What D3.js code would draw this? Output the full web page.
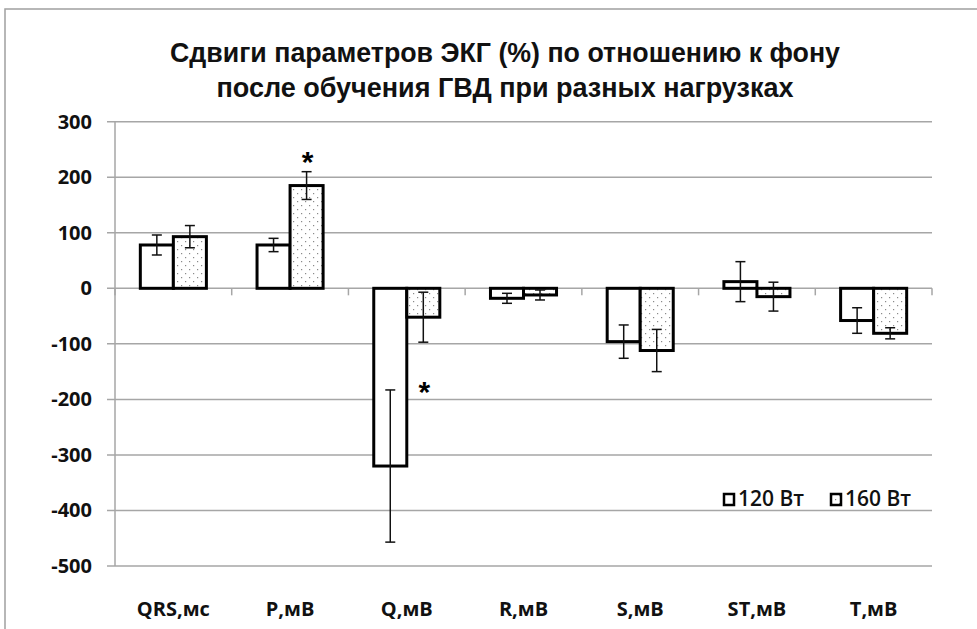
<!DOCTYPE html>
<html>
<head>
<meta charset="utf-8">
<script src="https://cdn.jsdelivr.net/npm/d3@7"></script>
<style>
  body { margin: 0; background: #fff; }
  svg { display: block; }
</style>
</head>
<body>
<svg width="977" height="629"></svg>
<script>
// данные графика
const categories = ["QRS,мс", "P,мВ", "Q,мВ", "R,мВ", "S,мВ", "ST,мВ", "T,мВ"];
const seriesNames = ["120 Вт", "160 Вт"];
const values120 = [78, 78, -320, -18, -96, 12, -58];
const errors120 = [18, 12, 137, 9, 30, 36, 23];
const values160 = [93, 185, -52, -12, -112, -15, -81];
const errors160 = [20, 25, 45, 9, 38, 26, 10];
const yTicks = [300, 200, 100, 0, -100, -200, -300, -400, -500];
// звездочки (достоверность) - категория, серия, уровень по оси Y
const stars = [
  {cat: "P,мВ", series: 1, value: 240},
  {cat: "Q,мВ", series: 1, value: -174}
];
const titleLines = ["Сдвиги параметров ЭКГ (%) по отношению к фону", "после обучения ГВД при разных нагрузках"];

const svg = d3.select("svg");
const plotL = 115, plotR = 932, plotT = 121.7, plotB = 566;

// рамка диаграммы
svg.append("rect")
  .attr("x", 5).attr("y", 9)
  .attr("width", 1000).attr("height", 700)
  .attr("fill", "none").attr("stroke", "#a0a0a0").attr("stroke-width", 1.5);

// узор для 160 Вт
const defs = svg.append("defs");
const pat = defs.append("pattern")
  .attr("id", "dots").attr("patternUnits", "userSpaceOnUse")
  .attr("width", 8).attr("height", 8);
pat.append("rect").attr("width", 8).attr("height", 8).attr("fill", "#fff");
pat.append("rect").attr("x", 1).attr("y", 1).attr("width", 1.2).attr("height", 1.2).attr("fill", "#8a8a8a");
pat.append("rect").attr("x", 5).attr("y", 5).attr("width", 1.2).attr("height", 1.2).attr("fill", "#8a8a8a");

const y = d3.scaleLinear().domain([-500, 300]).range([plotB, plotT]);
const x0 = d3.scaleBand().domain(categories).range([plotL, plotR]).paddingInner(0.434).paddingOuter(0.217);
const x1 = d3.scaleBand().domain([0, 1]).range([0, x0.bandwidth()]);

// сетка
svg.append("g").selectAll("line").data(yTicks).join("line")
  .attr("x1", plotL - 8).attr("x2", plotR)
  .attr("y1", d => y(d)).attr("y2", d => y(d))
  .attr("stroke", "#a6a6a6").attr("stroke-width", 1.5);

// ось Y
svg.append("line")
  .attr("x1", plotL).attr("x2", plotL).attr("y1", plotT).attr("y2", plotB)
  .attr("stroke", "#a6a6a6").attr("stroke-width", 1.5);

svg.append("g").selectAll("text").data(yTicks).join("text")
  .attr("x", 92).attr("y", d => y(d) + 7)
  .attr("text-anchor", "end")
  .attr("font-family", "'Open Sans', Lato, sans-serif")
  .attr("font-weight", "bold").attr("font-size", 20)
  .attr("fill", "#111")
  .text(d => d);

// засечки на нулевой линии
const step = x0.step();
const tickXs = d3.range(categories.length + 1).map(i => plotL + i * step);
svg.append("g").selectAll("line").data(tickXs).join("line")
  .attr("x1", d => d).attr("x2", d => d)
  .attr("y1", y(0)).attr("y2", y(0) + 7)
  .attr("stroke", "#a6a6a6").attr("stroke-width", 1.5);

// столбцы
const rows = categories.map((c, i) => [
  {cat: c, s: 0, v: values120[i], e: errors120[i]},
  {cat: c, s: 1, v: values160[i], e: errors160[i]}
]).flat();

const bx = d => x0(d.cat) + x1(d.s);

svg.append("g").selectAll("rect").data(rows).join("rect")
  .attr("x", d => bx(d))
  .attr("y", d => y(Math.max(0, d.v)))
  .attr("width", x1.bandwidth())
  .attr("height", d => Math.abs(y(d.v) - y(0)))
  .attr("fill", d => d.s === 0 ? "#fff" : "url(#dots)")
  .attr("stroke", "#000").attr("stroke-width", 3);

// планки погрешностей
const eb = svg.append("g").attr("stroke", "#111").attr("stroke-width", 1.5);
rows.forEach(d => {
  const cx = bx(d) + x1.bandwidth() / 2;
  eb.append("line").attr("x1", cx).attr("x2", cx).attr("y1", y(d.v + d.e)).attr("y2", y(d.v - d.e));
  eb.append("line").attr("x1", cx - 5).attr("x2", cx + 5).attr("y1", y(d.v + d.e)).attr("y2", y(d.v + d.e));
  eb.append("line").attr("x1", cx - 5).attr("x2", cx + 5).attr("y1", y(d.v - d.e)).attr("y2", y(d.v - d.e));
});

// звездочки
svg.append("g").selectAll("text").data(stars).join("text")
  .attr("x", d => x0(d.cat) + x1(d.series) + x1.bandwidth() / 2 + 1)
  .attr("y", d => y(d.value) + 17)
  .attr("text-anchor", "middle")
  .attr("font-family", "'Liberation Sans', Arial, sans-serif")
  .attr("font-weight", "bold").attr("font-size", 30)
  .text("*");

// подписи категорий
svg.append("g").selectAll("text").data(categories).join("text")
  .attr("x", d => x0(d) + x0.bandwidth() / 2)
  .attr("y", 616)
  .attr("text-anchor", "middle")
  .attr("font-family", "'Open Sans', Lato, sans-serif")
  .attr("font-weight", "bold").attr("font-size", 20)
  .attr("fill", "#111")
  .text(d => d);

// заголовок
const tWidths = [670, 577];
svg.append("g").selectAll("text").data(titleLines).join("text")
  .attr("x", 505).attr("y", (d, i) => 62 + i * 35)
  .attr("text-anchor", "middle")
  .attr("font-family", "'Liberation Sans Narrow', 'Arial Narrow', 'Liberation Sans', sans-serif")
  .attr("font-weight", "bold").attr("font-size", 27)
  .attr("textLength", (d, i) => tWidths[i])
  .attr("lengthAdjust", "spacingAndGlyphs")
  .attr("fill", "#111")
  .text(d => d);

// легенда
const legX = [723, 830];
const leg = svg.append("g").selectAll("g").data(seriesNames).join("g")
  .attr("transform", (d, i) => `translate(${legX[i]},494)`);
leg.append("rect")
  .attr("x", 1).attr("y", 0).attr("width", 10).attr("height", 11)
  .attr("fill", (d, i) => i === 0 ? "#fff" : "url(#dots)")
  .attr("stroke", "#000").attr("stroke-width", 2.5);
leg.append("text")
  .attr("x", 15).attr("y", 12)
  .attr("font-family", "'Open Sans', Lato, sans-serif")
  .attr("font-weight", 600)
  .attr("font-size", 21).attr("fill", "#111")
  .text(d => d);
</script>
</body>
</html>
